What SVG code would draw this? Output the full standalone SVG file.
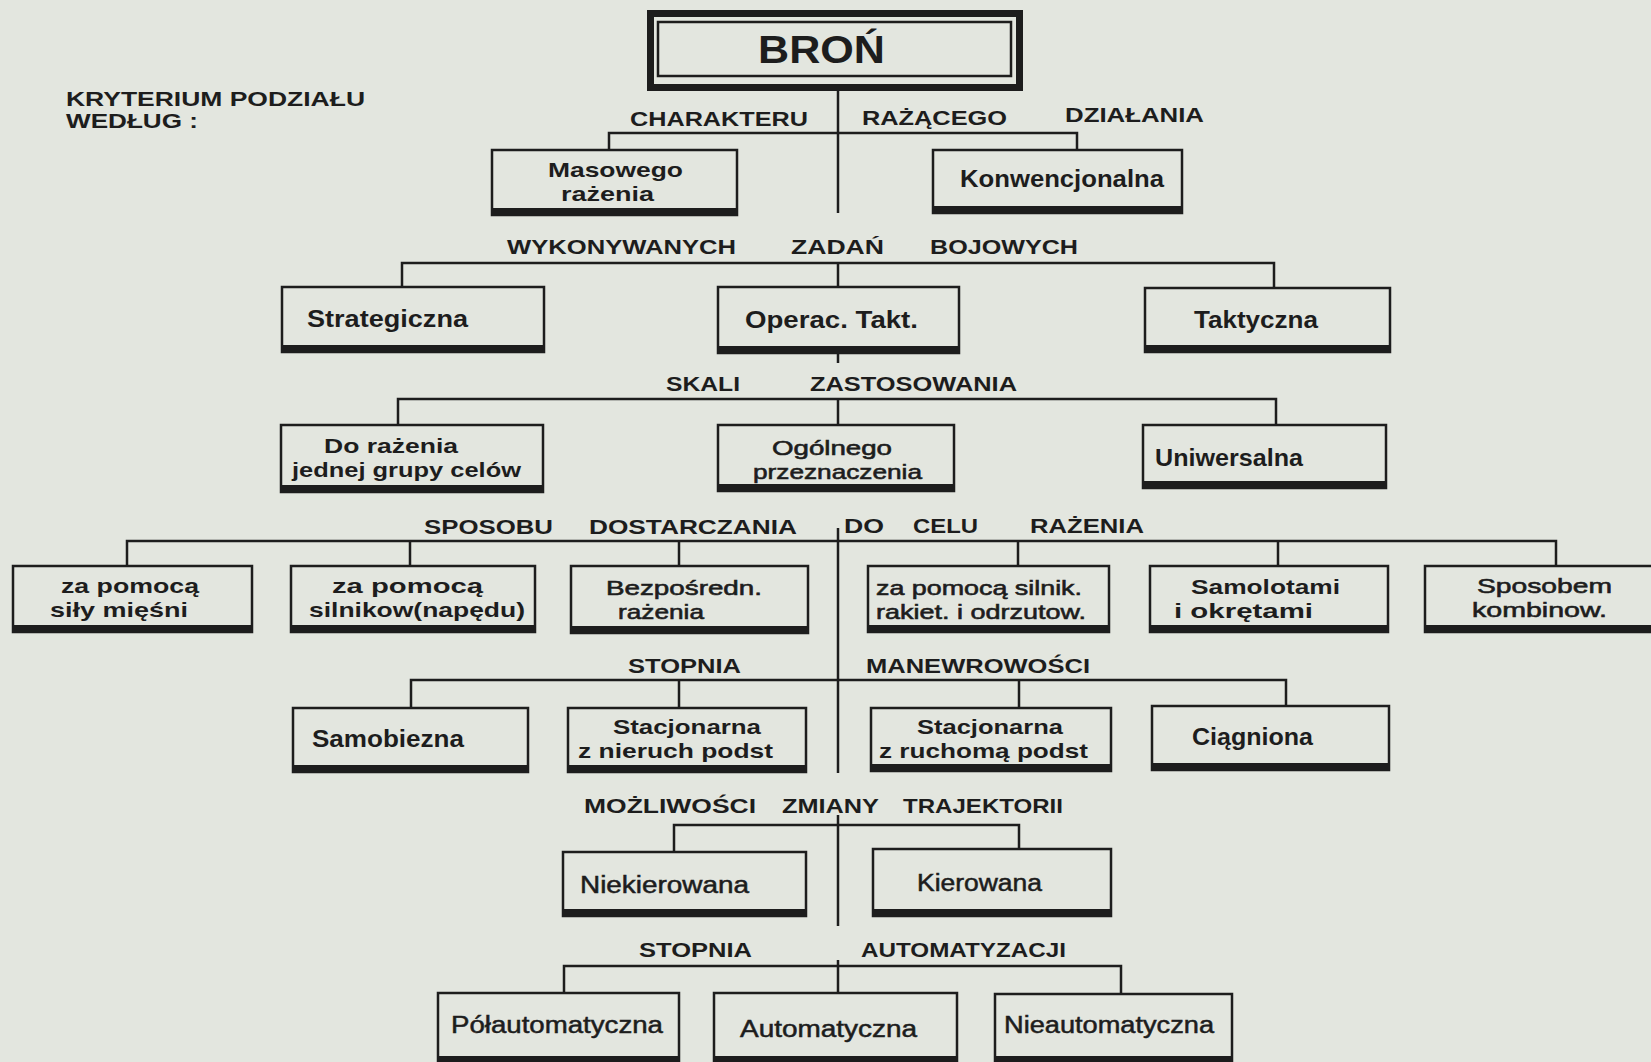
<svg xmlns="http://www.w3.org/2000/svg" width="1651" height="1062" viewBox="0 0 1651 1062">
<style>
.bg{fill:#e3e6df}
.box{fill:none;stroke:#1d1d1d;stroke-width:2.5}
.band{fill:#1d1d1d}
.ln{stroke:#1d1d1d;stroke-width:2.5;fill:none}
text{font-family:"Liberation Sans","Noto Sans",sans-serif;fill:#1d1d1d}
.lbl{font-size:21px;font-weight:bold}
.t{font-size:23px;stroke:#1d1d1d;stroke-width:0.5}
.tb{font-size:23px;font-weight:bold}
.t2{font-size:21px;stroke:#1d1d1d;stroke-width:0.6}
.tb2{font-size:21px;font-weight:bold}
</style>
<rect class="bg" x="0" y="0" width="1651" height="1062"/>
<g id="kryterium">
<text class="lbl" x="66" y="106" textLength="299" lengthAdjust="spacingAndGlyphs">KRYTERIUM PODZIAŁU</text>
<text class="lbl" x="66" y="128" textLength="132" lengthAdjust="spacingAndGlyphs">WEDŁUG :</text>
</g>
<g id="labels">
<text class="lbl" x="630" y="126" textLength="178" lengthAdjust="spacingAndGlyphs">CHARAKTERU</text>
<text class="lbl" x="862" y="125" textLength="145" lengthAdjust="spacingAndGlyphs">RAŻĄCEGO</text>
<text class="lbl" x="1065" y="122" textLength="139" lengthAdjust="spacingAndGlyphs">DZIAŁANIA</text>
<text class="lbl" x="507" y="254" textLength="229" lengthAdjust="spacingAndGlyphs">WYKONYWANYCH</text>
<text class="lbl" x="791" y="254" textLength="93" lengthAdjust="spacingAndGlyphs">ZADAŃ</text>
<text class="lbl" x="930" y="254" textLength="148" lengthAdjust="spacingAndGlyphs">BOJOWYCH</text>
<text class="lbl" x="666" y="391" textLength="74" lengthAdjust="spacingAndGlyphs">SKALI</text>
<text class="lbl" x="810" y="391" textLength="207" lengthAdjust="spacingAndGlyphs">ZASTOSOWANIA</text>
<text class="lbl" x="424" y="534" textLength="129" lengthAdjust="spacingAndGlyphs">SPOSOBU</text>
<text class="lbl" x="589" y="534" textLength="208" lengthAdjust="spacingAndGlyphs">DOSTARCZANIA</text>
<text class="lbl" x="844" y="533" textLength="40" lengthAdjust="spacingAndGlyphs">DO</text>
<text class="lbl" x="913" y="533" textLength="65" lengthAdjust="spacingAndGlyphs">CELU</text>
<text class="lbl" x="1030" y="533" textLength="114" lengthAdjust="spacingAndGlyphs">RAŻENIA</text>
<text class="lbl" x="628" y="673" textLength="113" lengthAdjust="spacingAndGlyphs">STOPNIA</text>
<text class="lbl" x="866" y="673" textLength="224" lengthAdjust="spacingAndGlyphs">MANEWROWOŚCI</text>
<text class="lbl" x="584" y="813" textLength="172" lengthAdjust="spacingAndGlyphs">MOŻLIWOŚCI</text>
<text class="lbl" x="782" y="813" textLength="97" lengthAdjust="spacingAndGlyphs">ZMIANY</text>
<text class="lbl" x="903" y="813" textLength="160" lengthAdjust="spacingAndGlyphs">TRAJEKTORII</text>
<text class="lbl" x="639" y="957" textLength="113" lengthAdjust="spacingAndGlyphs">STOPNIA</text>
<text class="lbl" x="861" y="957" textLength="205" lengthAdjust="spacingAndGlyphs">AUTOMATYZACJI</text>
</g>
<g id="connectors" class="ln">
<path d="M838 91V213"/>
<path d="M609 150V133H1077V150"/>
<path d="M402 286V263H1274V287M838 263V286"/>
<path d="M838 354V363M838 399V424M398 424V399H1276V424"/>
<path d="M127 565V541H1556V565M410 541V565M679 541V565M1018 541V565M1278 541V565"/>
<path d="M838 528V773"/>
<path d="M411 707V680H1286V705M679 680V707M1019 680V707"/>
<path d="M838 815V926M674 852V825H1019V848"/>
<path d="M838 960V992M564 992V966H1121V993"/>
</g>
<g id="bron">
<rect x="650.5" y="13.5" width="369" height="74" fill="none" stroke="#1d1d1d" stroke-width="7"/>
<rect x="647" y="84" width="376" height="7" class="band"/>
<rect x="658" y="22" width="353" height="54" fill="none" stroke="#1d1d1d" stroke-width="2.5"/>
<text x="758" y="63" font-size="39" font-weight="bold" textLength="127" lengthAdjust="spacingAndGlyphs">BROŃ</text>
</g>
<g id="masowego"><rect class="box" x="492" y="150" width="245" height="65"/><rect class="band" x="491" y="208" width="247" height="8"/>
<text class="tb2" x="548" y="177" textLength="135" lengthAdjust="spacingAndGlyphs">Masowego</text>
<text class="tb2" x="561" y="201" textLength="93" lengthAdjust="spacingAndGlyphs">rażenia</text></g>
<g id="konwencjonalna"><rect class="box" x="933" y="150" width="249" height="63"/><rect class="band" x="932" y="206" width="251" height="8"/>
<text class="tb" x="960" y="187" textLength="204" lengthAdjust="spacingAndGlyphs">Konwencjonalna</text></g>
<g id="strategiczna"><rect class="box" x="282" y="287" width="262" height="65"/><rect class="band" x="281" y="345" width="264" height="8"/>
<text class="tb" x="307" y="327" textLength="161" lengthAdjust="spacingAndGlyphs">Strategiczna</text></g>
<g id="operac"><rect class="box" x="718" y="287" width="241" height="66"/><rect class="band" x="717" y="346" width="243" height="8"/>
<text class="tb" x="745" y="328" textLength="173" lengthAdjust="spacingAndGlyphs">Operac. Takt.</text></g>
<g id="taktyczna"><rect class="box" x="1145" y="288" width="245" height="64"/><rect class="band" x="1144" y="345" width="247" height="8"/>
<text class="tb" x="1194" y="328" textLength="124" lengthAdjust="spacingAndGlyphs">Taktyczna</text></g>
<g id="dorazenia"><rect class="box" x="281" y="425" width="262" height="67"/><rect class="band" x="280" y="485" width="264" height="8"/>
<text class="tb2" x="324" y="453" textLength="134" lengthAdjust="spacingAndGlyphs">Do rażenia</text>
<text class="tb2" x="292" y="477" textLength="229" lengthAdjust="spacingAndGlyphs">jednej grupy celów</text></g>
<g id="ogolnego"><rect class="box" x="718" y="425" width="236" height="66"/><rect class="band" x="717" y="484" width="238" height="8"/>
<text class="t2" x="772" y="455" textLength="120" lengthAdjust="spacingAndGlyphs">Ogólnego</text>
<text class="t2" x="753" y="479" textLength="169" lengthAdjust="spacingAndGlyphs">przeznaczenia</text></g>
<g id="uniwersalna"><rect class="box" x="1143" y="425" width="243" height="63"/><rect class="band" x="1142" y="481" width="245" height="8"/>
<text class="tb" x="1155" y="466" textLength="148" lengthAdjust="spacingAndGlyphs">Uniwersalna</text></g>
<g id="sila"><rect class="box" x="13" y="566" width="239" height="66"/><rect class="band" x="12" y="625" width="241" height="8"/>
<text class="tb2" x="61" y="593" textLength="138" lengthAdjust="spacingAndGlyphs">za  pomocą</text>
<text class="tb2" x="50" y="617" textLength="138" lengthAdjust="spacingAndGlyphs">siły mięśni</text></g>
<g id="silniki"><rect class="box" x="291" y="566" width="244" height="66"/><rect class="band" x="290" y="625" width="246" height="8"/>
<text class="tb2" x="332" y="593" textLength="151" lengthAdjust="spacingAndGlyphs">za  pomocą</text>
<text class="tb2" x="309" y="617" textLength="216" lengthAdjust="spacingAndGlyphs">silnikow(napędu)</text></g>
<g id="bezposredn"><rect class="box" x="571" y="566" width="237" height="67"/><rect class="band" x="570" y="626" width="239" height="8"/>
<text class="t2" x="606" y="595" textLength="156" lengthAdjust="spacingAndGlyphs">Bezpośredn.</text>
<text class="t2" x="618" y="619" textLength="86" lengthAdjust="spacingAndGlyphs">rażenia</text></g>
<g id="rakiety"><rect class="box" x="868" y="566" width="241" height="66"/><rect class="band" x="867" y="625" width="243" height="8"/>
<text class="t2" x="876" y="595" textLength="206" lengthAdjust="spacingAndGlyphs">za pomocą silnik.</text>
<text class="t2" x="876" y="619" textLength="210" lengthAdjust="spacingAndGlyphs">rakiet. i odrzutow.</text></g>
<g id="samolotami"><rect class="box" x="1150" y="566" width="238" height="66"/><rect class="band" x="1149" y="625" width="240" height="8"/>
<text class="tb2" x="1191" y="594" textLength="149" lengthAdjust="spacingAndGlyphs">Samolotami</text>
<text class="tb2" x="1174" y="618" textLength="139" lengthAdjust="spacingAndGlyphs">i  okrętami</text></g>
<g id="sposobem"><rect class="box" x="1425" y="566" width="250" height="66"/><rect class="band" x="1424" y="625" width="250" height="8"/>
<text class="t2" x="1477" y="593" textLength="135" lengthAdjust="spacingAndGlyphs">Sposobem</text>
<text class="t2" x="1472" y="617" textLength="135" lengthAdjust="spacingAndGlyphs">kombinow.</text></g>
<g id="samobiezna"><rect class="box" x="293" y="708" width="235" height="64"/><rect class="band" x="292" y="765" width="237" height="8"/>
<text class="tb" x="312" y="747" textLength="152" lengthAdjust="spacingAndGlyphs">Samobiezna</text></g>
<g id="stacjonarna1"><rect class="box" x="568" y="708" width="238" height="64"/><rect class="band" x="567" y="765" width="240" height="8"/>
<text class="tb2" x="613" y="734" textLength="148" lengthAdjust="spacingAndGlyphs">Stacjonarna</text>
<text class="tb2" x="578" y="758" textLength="195" lengthAdjust="spacingAndGlyphs">z nieruch podst</text></g>
<g id="stacjonarna2"><rect class="box" x="871" y="708" width="240" height="63"/><rect class="band" x="870" y="764" width="242" height="8"/>
<text class="tb2" x="917" y="734" textLength="146" lengthAdjust="spacingAndGlyphs">Stacjonarna</text>
<text class="tb2" x="879" y="758" textLength="209" lengthAdjust="spacingAndGlyphs">z ruchomą podst</text></g>
<g id="ciagniona"><rect class="box" x="1152" y="706" width="237" height="64"/><rect class="band" x="1151" y="763" width="239" height="8"/>
<text class="tb" x="1192" y="745" textLength="121" lengthAdjust="spacingAndGlyphs">Ciągniona</text></g>
<g id="niekierowana"><rect class="box" x="563" y="852" width="243" height="64"/><rect class="band" x="562" y="909" width="245" height="8"/>
<text class="t" x="580" y="893" textLength="169" lengthAdjust="spacingAndGlyphs">Niekierowana</text></g>
<g id="kierowana"><rect class="box" x="873" y="849" width="238" height="67"/><rect class="band" x="872" y="909" width="240" height="8"/>
<text class="t" x="917" y="891" textLength="125" lengthAdjust="spacingAndGlyphs">Kierowana</text></g>
<g id="polautomatyczna"><rect class="box" x="438" y="993" width="241" height="70"/><rect class="band" x="437" y="1056" width="243" height="8"/>
<text class="t" x="451" y="1033" textLength="212" lengthAdjust="spacingAndGlyphs">Półautomatyczna</text></g>
<g id="automatyczna"><rect class="box" x="714" y="993" width="243" height="70"/><rect class="band" x="713" y="1056" width="245" height="8"/>
<text class="t" x="740" y="1037" textLength="177" lengthAdjust="spacingAndGlyphs">Automatyczna</text></g>
<g id="nieautomatyczna"><rect class="box" x="995" y="994" width="237" height="69"/><rect class="band" x="994" y="1056" width="239" height="8"/>
<text class="t" x="1004" y="1033" textLength="210" lengthAdjust="spacingAndGlyphs">Nieautomatyczna</text></g>
</svg>
